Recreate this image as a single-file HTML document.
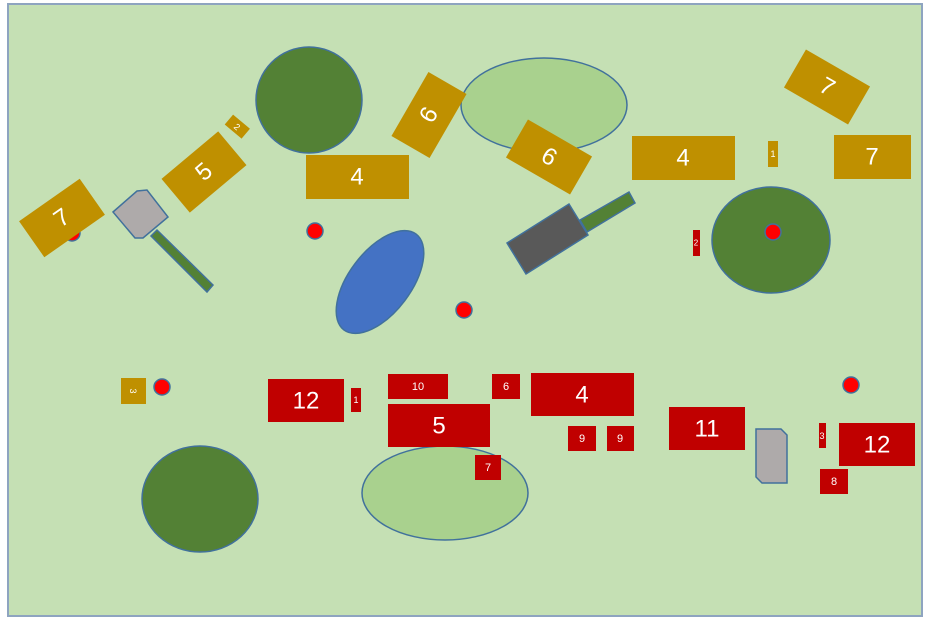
<!DOCTYPE html>
<html><head><style>body{margin:0;background:#fff}svg{display:block}text{font-family:"Liberation Sans",sans-serif;fill:#fff;text-anchor:middle;dominant-baseline:central}</style></head>
<body>
<svg width="939" height="631" viewBox="0 0 939 631">
<rect x="8" y="4" width="914" height="612" fill="#c5e0b4" stroke="#8ea4c0" stroke-width="2"/>
<g stroke="#41719c" stroke-width="1.5">
<circle cx="309" cy="100" r="53" fill="#538135"/>
<ellipse cx="544" cy="105" rx="83" ry="47" fill="#a9d18e"/>
<ellipse cx="771" cy="240" rx="59" ry="53" fill="#538135"/>
<ellipse cx="200" cy="499" rx="58" ry="53" fill="#538135"/>
<ellipse cx="445" cy="493" rx="83" ry="47" fill="#a9d18e"/>
<ellipse cx="380" cy="282" rx="60" ry="31" fill="#4472c4" transform="rotate(-53 380 282)"/>
<circle cx="72" cy="233" r="8" fill="#f00"/>
<circle cx="315" cy="231" r="8" fill="#f00"/>
<circle cx="464" cy="310" r="8" fill="#f00"/>
<circle cx="773" cy="232" r="8" fill="#f00"/>
<circle cx="162" cy="387" r="8" fill="#f00"/>
<circle cx="851" cy="385" r="8" fill="#f00"/>
<polygon points="580,220 629,192 635,203 587,232" fill="#538135"/>
<polygon points="507,243 569,204 588,235 526,274" fill="#595959"/>
<polygon points="157,230 213,285 207,292 151,236" fill="#538135"/>
<polygon points="113,212 137,191 147,190 168,217 143,238 135,238" fill="#aeaaaa"/>
<polygon points="756,429 781,429 787,435 787,483 762,483 756,477" fill="#aeaaaa"/>
</g>
<g fill="#bf9000">
<g transform="rotate(-60 429 115)"><rect x="392" y="93" width="74" height="44"/></g>
<text x="429" y="115" font-size="24" transform="rotate(-60 429 115)">6</text>
<g transform="rotate(30 549 157)"><rect x="512" y="135" width="74" height="44"/></g>
<text x="549" y="157" font-size="24" transform="rotate(30 549 157)">6</text>
<g transform="rotate(30 827 87)"><rect x="790" y="65" width="74" height="44"/></g>
<text x="827" y="87" font-size="24" transform="rotate(30 827 87)">7</text>
<g transform="rotate(-35 62 218)"><rect x="25" y="196" width="74" height="44"/></g>
<text x="62" y="218" font-size="24" transform="rotate(-35 62 218)">7</text>
<g transform="rotate(-40 204 172)"><rect x="167" y="150" width="74" height="44"/></g>
<text x="204" y="172" font-size="24" transform="rotate(-40 204 172)">5</text>
<g transform="rotate(40 237 127)"><rect x="226" y="120" width="22" height="13"/></g>
<text x="237" y="127" font-size="9" transform="rotate(40 237 127)">2</text>
<rect x="306" y="155" width="103" height="44"/><text x="357" y="177" font-size="24">4</text>
<rect x="632" y="136" width="103" height="44"/><text x="683" y="158" font-size="24">4</text>
<rect x="834" y="135" width="77" height="44"/><text x="872" y="157" font-size="24">7</text>
<rect x="768" y="141" width="10" height="26"/><text x="773" y="154" font-size="9">1</text>
<rect x="121" y="378" width="25" height="26"/><text x="133" y="391" font-size="9" transform="rotate(90 133 391)">3</text>
</g>
<g fill="#c00000">
<rect x="693" y="230" width="7" height="26"/><text x="696" y="243" font-size="8">2</text>
<rect x="268" y="379" width="76" height="43"/><text x="306" y="401" font-size="24">12</text>
<rect x="351" y="388" width="10" height="24"/><text x="356" y="400" font-size="9">1</text>
<rect x="388" y="374" width="60" height="25"/><text x="418" y="387" font-size="11">10</text>
<rect x="388" y="404" width="102" height="43"/><text x="439" y="426" font-size="24">5</text>
<rect x="492" y="374" width="28" height="25"/><text x="506" y="387" font-size="11">6</text>
<rect x="531" y="373" width="103" height="43"/><text x="582" y="395" font-size="24">4</text>
<rect x="568" y="426" width="28" height="25"/><text x="582" y="439" font-size="11">9</text>
<rect x="607" y="426" width="27" height="25"/><text x="620" y="439" font-size="11">9</text>
<rect x="475" y="455" width="26" height="25"/><text x="488" y="468" font-size="11">7</text>
<rect x="669" y="407" width="76" height="43"/><text x="707" y="429" font-size="24">11</text>
<rect x="819" y="423" width="7" height="25"/><text x="822" y="436" font-size="9">3</text>
<rect x="839" y="423" width="76" height="43"/><text x="877" y="445" font-size="24">12</text>
<rect x="820" y="469" width="28" height="25"/><text x="834" y="482" font-size="11">8</text>
</g>
</svg>
</body></html>
